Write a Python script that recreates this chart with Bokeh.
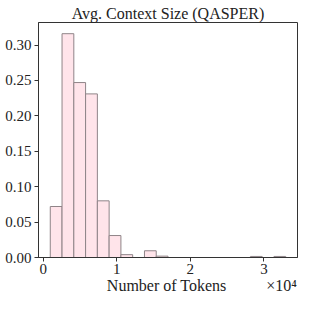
from bokeh.plotting import figure
from bokeh.models import FixedTicker, Range1d
from bokeh.embed import file_html
from bokeh.resources import INLINE

# Histogram data (fraction of documents per bin)
bin_start = 960
bin_width = 1600
heights = [0.072, 0.316, 0.247, 0.231, 0.080, 0.031, 0.004, 0.0, 0.0095, 0.0019,
           0.0, 0.0, 0.0, 0.0, 0.0, 0.0, 0.0, 0.0015, 0.0, 0.0015]
x_ticks = [0, 10000, 20000, 30000]
x_tick_labels = ["0", "1", "2", "3"]
y_ticks = [0.0, 0.05, 0.10, 0.15, 0.20, 0.25, 0.30]
x_label = "Number of Tokens"
offset_text = "×10⁴"

lefts = [bin_start + i * bin_width for i in range(len(heights))]
rights = [l + bin_width for l in lefts]
data_min, data_max = lefts[0], rights[-1]
span = data_max - data_min

FONT = "Liberation Serif"

p = figure(width=300, height=300, output_backend="svg", toolbar_location=None,
           title="Avg. Context Size (QASPER)",
           x_range=Range1d(data_min - 0.05 * span, data_max + 0.05 * span),
           y_range=Range1d(0, max(heights) * 1.05),
           min_border_left=38, min_border_right=3, min_border_top=22, min_border_bottom=43)

p.quad(left=lefts, right=rights, bottom=0, top=heights,
       fill_color="#ffe4ea", line_color="#8f8488", line_width=1)

p.grid.visible = False
p.outline_line_color = "#333333"
p.outline_line_width = 1

p.title.text_font = FONT
p.title.text_font_size = "16px"
p.title.text_font_style = "normal"
p.title.align = "center"
p.title.text_color = "#222222"
p.title.standoff = 2

for ax in (p.xaxis, p.yaxis):
    ax.axis_line_color = "#333333"
    ax.major_tick_line_color = "#333333"
    ax.major_tick_in = 0
    ax.major_tick_out = 4
    ax.minor_tick_line_color = None
    ax.major_label_text_font = FONT
    ax.major_label_text_font_size = "15px"
    ax.major_label_text_color = "#222222"
    ax.axis_label_text_font = FONT
    ax.axis_label_text_font_size = "16px"
    ax.axis_label_text_font_style = "normal"
    ax.axis_label_text_color = "#222222"

p.xaxis.ticker = FixedTicker(ticks=x_ticks)
p.xaxis.major_label_overrides = {t: l for t, l in zip(x_ticks, x_tick_labels)}
p.xaxis.axis_label_standoff = 0
p.xaxis.major_label_standoff = 2
# offset text (×10⁴) sits on the same line as the axis label, at the right end
nb = "\u00a0"
p.xaxis.axis_label = nb * 17 + x_label + nb * 10 + offset_text

p.yaxis.ticker = FixedTicker(ticks=y_ticks)
p.yaxis.major_label_overrides = {t: f"{t:.2f}" for t in y_ticks}
p.yaxis.major_label_standoff = 3

open("out.html", "w").write(file_html(p, INLINE))
